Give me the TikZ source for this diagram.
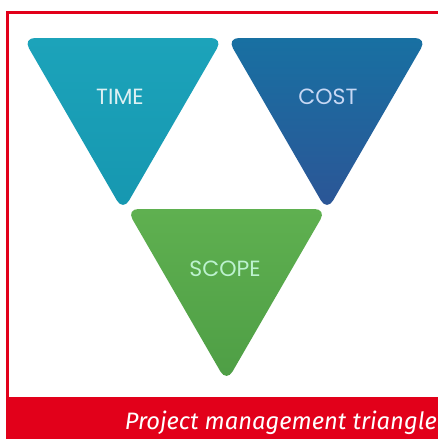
\documentclass[tikz,border=0pt]{standalone}
\usepackage{fontspec}
\usepackage{graphicx}
\setmainfont{Poppins}
\newfontfamily\captionfont{Fira Sans}
\definecolor{frame red}{HTML}{E2001A}
\definecolor{time top}{HTML}{1CA3BA}
\definecolor{time bottom}{HTML}{1697B0}
\definecolor{cost top}{HTML}{1870A2}
\definecolor{cost bottom}{HTML}{2C5596}
\definecolor{scope top}{HTML}{5FB050}
\definecolor{scope bottom}{HTML}{4E9E45}
\definecolor{label light}{HTML}{DDF0F3}
\tikzset{
  x=1pt, y=-1pt,
  wedge/.style={rounded corners=12pt},
  wedgelabel/.style={text=label light, font=\fontsize{22}{22}\selectfont, inner sep=0pt},
}
\begin{document}
\begin{tikzpicture}
  \useasboundingbox (0,0) rectangle (438,439);
  \fill[white] (0,0) rectangle (438,439);
  % frame: top and left rules, red caption band
  \fill[frame red] (6,11) rectangle (438,13.5);
  \fill[frame red] (6,11) rectangle (8.5,400);
  \fill[frame red] (6,397) rectangle (438,439);
  % the three inverted triangles
  \shade[wedge, top color=time top, bottom color=time bottom]
    (23,38) -- (223,38) -- (123,211) -- cycle;
  \shade[wedge, top color=cost top, bottom color=cost bottom]
    (227,38) -- (427,38) -- (327,211) -- cycle;
  \shade[wedge, top color=scope top, bottom color=scope bottom]
    (126.5,209) -- (326.5,209) -- (226.5,382) -- cycle;
  \node[wedgelabel] (time) at (120,97) {TIME};
  \node[wedgelabel, text=label light!90!blue] (cost) at (328,97) {COST};
  \node[wedgelabel, text=label light!85!green] (scope) at (225,269) {SCOPE};
  \node[anchor=base east, text=white, inner sep=0pt,
        font=\captionfont\itshape\fontsize{22}{22}\selectfont]
    (caption) at (437,429) {\resizebox{312pt}{!}{Project management triangle}};
\end{tikzpicture}
\end{document}
